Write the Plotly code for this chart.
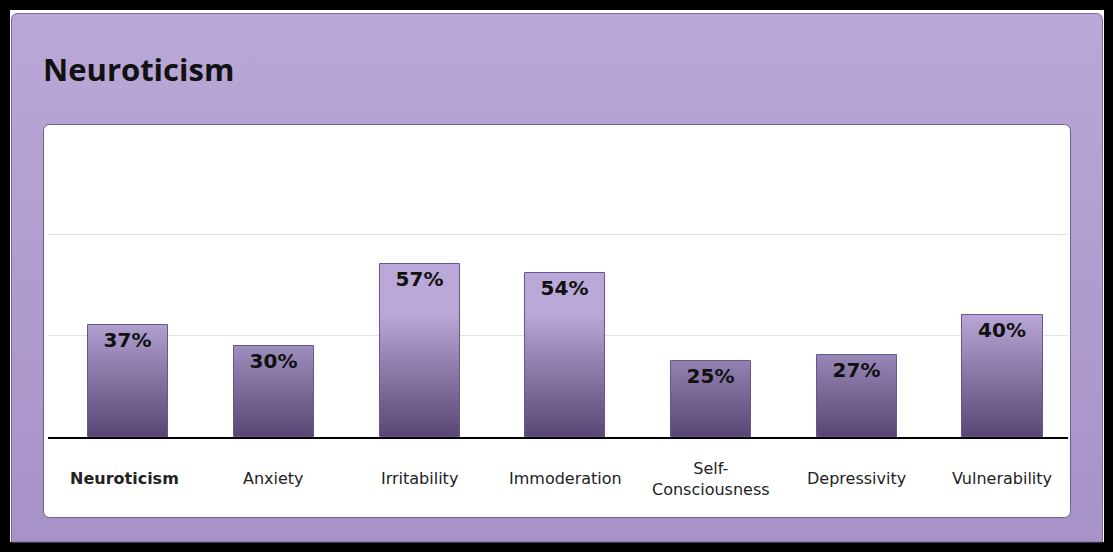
import base64
import plotly.graph_objects as go

categories = ["Neuroticism", "Anxiety", "Irritability", "Immoderation",
              "Self-<br>Consciousness", "Depressivity", "Vulnerability"]
values = [37, 30, 57, 54, 25, 27, 40]
value_labels = [f"{v}%" for v in values]
grid_ticks = [33.33, 66.67, 100]

W, H = 1113, 552

# ---- background (frame, panel gradient, white card) as an SVG image ----
svg = f'''<svg xmlns="http://www.w3.org/2000/svg" width="{W}" height="{H}" viewBox="0 0 {W} {H}">
<defs><linearGradient id="g" x1="0" y1="0" x2="0" y2="1">
<stop offset="0" stop-color="#b9a8d7"/><stop offset="1" stop-color="#a792c7"/></linearGradient></defs>
<rect x="0" y="0" width="{W}" height="{H}" fill="#000"/>
<rect x="10" y="10" width="1094" height="532" fill="#fff"/>
<path d="M11.5,542 L11.5,20 Q11.5,13.5 18,13.5 L1096,13.5 Q1102.5,13.5 1102.5,20 L1102.5,542 Z" fill="url(#g)" stroke="#7b6a9c" stroke-width="1"/>
<rect x="43.5" y="124.5" width="1027" height="393" rx="6" ry="6" fill="#fff" stroke="#6f5e96" stroke-width="1"/>
</svg>'''
bg_src = "data:image/svg+xml;base64," + base64.b64encode(svg.encode()).decode()

# ---- gradient bars built from stacked slices ----
dark = (0x57, 0x46, 0x73)
light = (0xb9, 0xa8, 0xd8)


def col(m):
    t = min(max(m / 41.0, 0), 1)
    r = [round(dark[i] + (light[i] - dark[i]) * t) for i in range(3)]
    return f"rgb({r[0]},{r[1]},{r[2]})"


sx, sy, sb, sc = [], [], [], []
for i, v in enumerate(values):
    step = 0.5
    b = 0.0
    while b < v - 1e-9:
        h = min(step, v - b)
        sx.append(i)
        sb.append(b)
        sy.append(min(h + 0.15, v - b))
        sc.append(col(b + h / 2))
        b += h

fig = go.Figure()
fig.add_trace(go.Bar(x=sx, y=sy, base=sb, width=0.55,
                     marker=dict(color=sc, line=dict(width=0)),
                     hoverinfo="skip", showlegend=False))
fig.add_trace(go.Bar(x=list(range(len(values))), y=values, width=0.55,
                     marker=dict(color="rgba(0,0,0,0)", line=dict(color="#685690", width=1)),
                     text=value_labels, textposition="inside", insidetextanchor="end",
                     constraintext="none",
                     textfont=dict(family="DejaVu Sans", size=20, color="#111111", weight="bold"),
                     showlegend=False))

annotations = []
for i, c in enumerate(categories):
    txt = f"<b>{c}</b>" if i == 0 else c
    annotations.append(dict(x=i, y=-0.138, xref="x", yref="paper", text=txt,
                            showarrow=False, xanchor="center", yanchor="middle",
                            xshift=-4 if i == 0 else 0,
                            font=dict(family="DejaVu Sans", size=16, color="#222222")))
annotations.append(dict(x=-7 / 1020, y=(437 - 69) / 304, xref="paper", yref="paper",
                        text="<b>Neuroticism</b>", showarrow=False, xanchor="left",
                        yanchor="middle", font=dict(family="Open Sans", size=31, color="#111111")))

fig.update_layout(
    width=W, height=H, autosize=False,
    margin=dict(l=48, r=W - 1068, t=133, b=H - 437, pad=0),
    paper_bgcolor="#000000", plot_bgcolor="rgba(0,0,0,0)",
    barmode="overlay", bargap=0,
    images=[dict(source=bg_src, xref="paper", yref="paper", x=-48 / 1020, y=437 / 304,
                 sizex=W / 1020, sizey=H / 304, xanchor="left", yanchor="top",
                 sizing="stretch", layer="below")],
    xaxis=dict(range=[-0.55, 6.45], showgrid=False, showticklabels=False, zeroline=False,
               showline=True, linecolor="#000000", linewidth=2, ticks=""),
    yaxis=dict(range=[0, 100], tickvals=grid_ticks, showticklabels=False, showgrid=True,
               gridcolor="#e2e2e2", gridwidth=1, zeroline=False, showline=False, ticks=""),
    annotations=annotations,
)

fig.write_html("out.html", config={"displayModeBar": False},
               post_script="document.body.style.margin='0';document.body.style.overflow='hidden';")
